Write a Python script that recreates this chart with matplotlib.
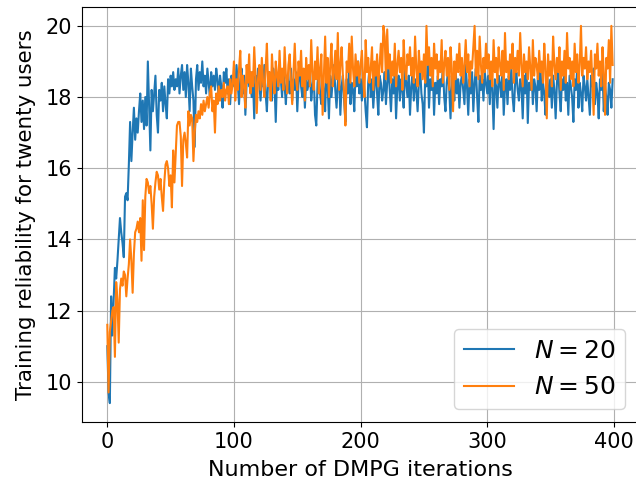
import numpy as np
import matplotlib
matplotlib.use("Agg")
import matplotlib.pyplot as plt

# reliability per DMPG iteration
n20 = [
    11.0, 9.7, 9.4, 12.4, 11.3, 12.3, 13.2, 12.9, 13.4, 14.0, 14.6, 14.2, 13.9, 13.5, 15.2, 15.3, 15.1, 16.1, 17.3, 16.2,
    17.0, 17.7, 16.8, 17.4, 17.0, 17.6, 18.1, 17.3, 17.9, 17.1, 18.0, 17.2, 19.0, 17.8, 16.5, 18.2, 17.6, 18.1, 18.6, 17.5,
    17.0, 18.2, 17.9, 18.4, 17.6, 18.3, 17.8, 17.4, 18.5, 18.1, 18.6, 18.3, 18.7, 18.2, 18.5, 18.3, 18.8, 18.1, 18.6, 18.9,
    18.2, 18.7, 18.0, 18.9, 18.4, 17.6, 18.8, 18.3, 17.9, 16.6, 18.5, 18.9, 18.2, 18.7, 18.4, 19.0, 18.3, 18.6, 18.1, 18.8,
    18.4, 18.0, 18.7, 18.3, 18.6, 18.2, 18.8, 18.5, 17.9, 18.6, 18.3, 17.7, 18.7, 18.4, 18.8, 18.1, 18.5, 17.8, 18.6, 18.3,
    18.6, 18.2, 18.9, 18.4, 17.8, 18.5, 18.8, 18.1, 18.6, 17.5, 18.4, 18.9, 18.3, 18.7, 18.0, 18.5, 17.4, 18.6, 18.2, 18.8,
    18.4, 17.9, 18.6, 18.3, 18.9, 18.1, 17.6, 18.5, 18.7, 18.2, 17.9, 18.8, 18.4, 17.3, 18.6, 18.2, 18.9, 18.5, 18.0, 18.7,
    18.3, 17.8, 18.6, 18.4, 18.1, 18.8, 17.9, 18.5, 18.2, 18.7, 17.6, 18.4, 18.9, 18.3, 18.0, 18.6, 17.7, 18.5, 18.2, 18.4,
    18.8, 17.9, 18.3, 18.6, 17.5, 17.2, 18.4, 18.7, 18.1, 17.8, 18.5, 18.2, 17.6, 18.8, 18.3, 17.4, 18.6, 18.0, 18.5, 18.9,
    18.2, 17.7, 18.4, 18.7, 17.5, 18.3, 18.6, 17.9, 17.3, 18.5, 18.1, 18.8, 17.8, 18.4, 18.2, 17.6, 18.7, 18.3, 19.0, 18.1,
    18.5, 17.9, 18.6, 18.2, 17.6, 17.15, 18.4, 18.8, 18.0, 18.5, 17.7, 18.3, 18.9, 18.1, 17.5, 18.6, 18.4, 17.9, 18.2, 18.7,
    17.8, 18.4, 18.9, 18.2, 17.6, 18.5, 18.1, 18.7, 17.4, 18.3, 18.6, 17.9, 18.5, 18.2, 17.7, 18.8, 18.4, 18.0, 18.6, 17.5,
    18.3, 18.7, 17.9, 18.5, 18.2, 17.6, 18.4, 18.8, 18.1, 17.8, 17.0, 18.6, 18.3, 18.9, 17.7, 18.5, 18.2, 18.7, 17.5, 18.4,
    18.1, 18.6, 17.8, 18.5, 18.3, 18.9, 18.0, 17.6, 18.4, 18.7, 18.2, 17.4, 18.6, 18.3, 17.9, 18.8, 18.1, 18.5, 17.7, 18.4,
    18.6, 18.2, 17.8, 18.9, 18.3, 17.5, 18.5, 18.1, 18.7, 17.6, 18.4, 18.8, 18.0, 17.3, 18.6, 18.2, 18.5, 17.9, 18.7, 18.4,
    18.1, 18.6, 17.8, 18.9, 18.2, 17.1, 18.5, 18.3, 17.7, 18.6, 18.4, 18.0, 18.7, 17.5, 18.3, 18.5, 17.8, 18.6, 18.2, 18.8,
    18.0, 17.6, 18.4, 18.7, 18.2, 17.9, 18.5, 18.3, 17.4, 18.6, 18.1, 18.8, 17.27, 18.4, 18.2, 18.7, 17.8, 18.5, 18.3, 17.6,
    18.6, 18.2, 18.9, 17.9, 18.4, 18.1, 17.5, 18.7, 18.3, 18.0, 18.5, 17.7, 18.6, 18.2, 17.4, 18.4, 18.8, 18.1, 17.6, 18.5,
    18.2, 18.7, 17.9, 18.4, 17.5, 18.6, 18.3, 18.0, 17.3, 18.5, 18.2, 18.8, 17.7, 18.4, 18.1, 17.6, 18.6, 18.3, 17.9, 18.5,
    18.0, 17.5, 18.6, 18.3, 18.8, 17.8, 18.4, 18.1, 17.4, 18.5, 18.2, 18.7, 17.6, 18.3, 18.0, 17.5, 18.4, 18.2, 17.7, 18.5,
]

n50 = [
    11.6, 9.7, 11.4, 11.7, 12.0, 12.1, 10.7, 12.8, 12.3, 11.1, 12.6, 12.9, 12.7, 13.1, 13.0, 12.4, 12.9, 13.3, 14.0, 13.4,
    12.5, 13.6, 14.2, 14.3, 14.5, 14.2, 14.6, 13.4, 15.1, 13.7, 15.2, 15.7, 15.6, 15.3, 15.5, 15.0, 14.3, 15.2, 15.6, 15.9,
    15.8, 15.4, 15.7, 15.2, 14.8, 15.6, 16.1, 16.2, 16.0, 15.5, 15.8, 14.9, 16.5, 15.6, 16.4, 17.2, 17.3, 17.3, 16.9, 15.5,
    16.8, 17.0, 16.7, 16.3, 17.6, 17.2, 17.5, 17.4, 16.2, 17.0, 17.5, 17.3, 17.6, 17.4, 17.8, 17.5, 17.9, 17.6, 17.8, 18.0,
    17.7, 18.1, 18.3, 17.6, 17.9, 17.0, 18.1, 17.8, 18.3, 17.9, 18.2, 18.0, 18.4, 17.9, 18.2, 18.3, 17.8, 18.5, 18.1, 18.4,
    19.0, 17.9, 18.5, 18.2, 18.8, 19.3, 18.0, 18.6, 18.3, 17.7, 18.9, 18.4, 19.2, 18.1, 18.7, 18.3, 19.4, 18.6, 17.55, 18.5,
    18.9, 18.2, 19.1, 18.4, 18.0, 18.8, 19.5, 18.3, 18.7, 17.9, 19.2, 18.5, 18.1, 19.0, 18.6, 18.3, 19.3, 18.4, 18.8, 18.2,
    19.4, 18.6, 18.1, 18.9, 19.2, 18.4, 17.8, 18.7, 19.5, 18.5, 18.2, 19.0, 18.6, 19.3, 18.3, 18.8, 17.9, 19.1, 18.5, 18.9,
    18.3, 19.6, 18.7, 18.2, 19.0, 18.5, 19.4, 18.1, 18.8, 19.2, 17.5, 18.6, 19.7, 18.4, 19.1, 18.0, 18.9, 19.5, 18.3, 18.7,
    19.3, 18.5, 19.8, 18.2, 18.9, 19.4, 18.6, 18.1, 17.2, 19.0, 18.7, 19.5, 18.4, 19.7, 18.8, 18.3, 19.2, 18.6, 19.0, 18.4,
    18.9, 19.3, 18.5, 18.0, 19.6, 18.7, 19.1, 18.4, 18.8, 19.4, 18.2, 19.0, 18.6, 19.2, 18.3, 18.9, 19.5, 18.7, 20.0, 19.7,
    18.5, 19.9, 18.8, 19.2, 18.4, 19.0, 18.6, 19.5, 18.3, 18.9, 19.3, 18.7, 19.1, 18.2, 19.6, 18.8, 18.5, 19.2, 18.9, 19.4,
    18.6, 19.1, 18.4, 19.7, 18.8, 18.3, 19.3, 18.7, 19.0, 18.5, 19.2, 18.4, 20.0, 18.9, 19.4, 18.6, 19.1, 18.3, 19.5, 18.8,
    19.2, 18.5, 19.0, 18.7, 19.6, 18.4, 18.9, 19.3, 18.6, 19.1, 18.2, 19.4, 18.8, 17.6, 19.0, 18.5, 19.2, 18.7, 19.5, 18.6,
    19.1, 18.4, 18.9, 19.6, 18.7, 19.2, 18.3, 19.0, 18.8, 19.4, 20.0, 18.6, 19.3, 18.5, 19.7, 18.9, 18.4, 19.1, 18.7, 19.5,
    18.8, 19.2, 18.5, 19.0, 18.3, 19.6, 18.7, 19.1, 18.4, 19.4, 18.9, 18.6, 19.3, 18.2, 19.8, 18.7, 19.0, 18.5, 19.2, 18.8,
    19.5, 18.4, 19.1, 18.7, 19.3, 18.6, 19.8, 18.9, 18.3, 19.2, 18.7, 19.0, 18.5, 19.4, 18.8, 18.2, 19.6, 18.6, 19.1, 18.9,
    18.5, 19.3, 18.7, 19.0, 18.4, 19.5, 18.8, 17.4, 19.2, 18.6, 19.0, 18.3, 19.7, 18.9, 18.5, 19.1, 18.7, 19.4, 18.2, 19.0,
    18.6, 19.3, 18.4, 19.8, 18.8, 19.1, 18.5, 19.0, 18.3, 19.5, 18.7, 19.2, 18.4, 18.9, 20.0, 18.6, 19.1, 18.8, 19.4, 18.5,
    19.0, 18.7, 19.3, 18.4, 17.5, 19.2, 18.8, 19.5, 18.6, 19.0, 18.3, 19.4, 18.7, 17.5, 19.1, 18.8, 19.6, 18.4, 20.0, 18.9,
]

labels = [r"$N=20$", r"$N=50$"]
iters = np.arange(len(n20))

fig = plt.figure(figsize=(6.36, 4.82), dpi=100)
ax = fig.add_axes([0.129, 0.1245, 0.874, 0.861])

ax.plot(iters, n20, color="#1f77b4", label=labels[0])
ax.plot(iters, n50, color="#ff7f0e", label=labels[1])

ax.set_xlabel("Number of DMPG iterations", fontsize=16, labelpad=6)
ax.set_ylabel("Training reliability for twenty users", fontsize=15.4, labelpad=7)
ax.tick_params(labelsize=15)
ax.set_xticks([0, 100, 200, 300, 400])
ax.set_yticks([10, 12, 14, 16, 18, 20])
ax.grid(True)
ax.legend(loc="lower right", fontsize=18)

fig.savefig("out.png", dpi=100)
